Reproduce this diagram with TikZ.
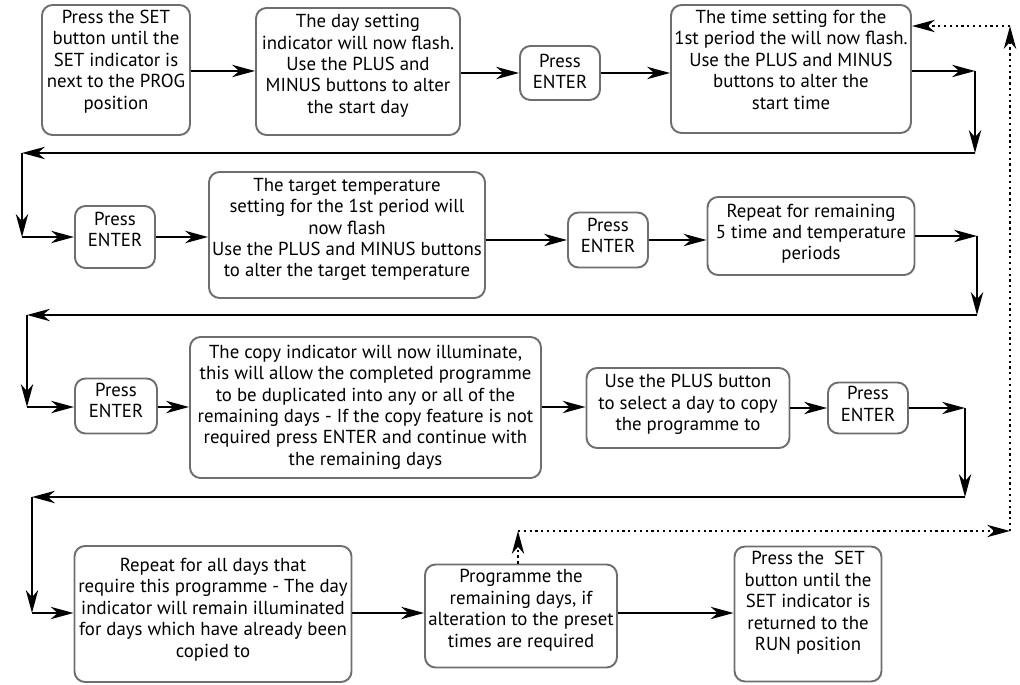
\documentclass[tikz,border=0pt]{standalone}
\usepackage{fontspec}
\setmainfont{PT Sans}
\usetikzlibrary{arrows.meta,calc}
\definecolor{boxgray}{HTML}{6E6E6E}
\newcommand{\tb}[2][0pt]{\raisebox{#1}[\height][\depth]{\begin{tabular}{@{}c@{}}#2\end{tabular}}}
\tikzset{
  bx/.style 2 args={draw=boxgray, line width=1.1pt, rounded corners=6pt, inner sep=0pt,
    minimum width=#1*0.02cm, minimum height=#2*0.02cm,
    font=\fontsize{10.7}{12.2}\selectfont},
  arrtip/.style={-{Stealth[length=13pt,width=7pt,inset=4pt]}},
  arr/.style={line width=1.4pt, arrtip},
  darr/.style={line width=1.3pt, dotted, arrtip},
}
\begin{document}
\begin{tikzpicture}[x=0.02cm,y=-0.02cm]
\useasboundingbox (0,0) rectangle (1020,685);
% row 1
\node[bx={148}{130}] (B1) at (116,70) {\tb[4.5pt]{Press the SET\\button until the\\SET indicator is\\next to the PROG\\position}};
\node[bx={204}{127}] (B2) at (358,71.5) {\tb[3pt]{The day setting\\indicator will now flash.\\Use the PLUS and\\MINUS buttons to alter\\the start day}};
\node[bx={80}{54}] (B3) at (560,73) {\tb[-0.5pt]{Press\\ENTER}};
\node[bx={240}{128}] (B4) at (791,69) {\tb[4pt]{The time setting for the\\1st period the will now flash.\\Use the PLUS and MINUS\\buttons to alter the\\start time}};
% row 2
\node[bx={80}{62}] (B5) at (115,237) {\tb[3pt]{Press\\ENTER}};
\node[bx={276}{126}] (B6) at (347,235) {\tb[3pt]{The target temperature\\setting for the 1st period will\\now flash\\Use the PLUS and MINUS buttons\\to alter the target temperature}};
\node[bx={80}{55}] (B7) at (608,240) {\tb[1.4pt]{Press\\ENTER}};
\node[bx={207}{78}] (B8) at (811,236) {\tb[1pt]{Repeat for remaining\\5 time and temperature\\periods}};
% row 3
\node[bx={82}{55}] (B9) at (116,406) {\tb[2pt]{Press\\ENTER}};
\node[bx={351}{141}] (B10) at (365.5,407.5) {\tb{The copy indicator will now illuminate,\\this will allow the completed programme\\to be duplicated into any or all of the\\remaining days - If the copy feature is not\\required press ENTER and continue with\\the remaining days}};
\node[bx={203}{80}] (B11) at (688,408) {\tb[1.7pt]{Use the PLUS button\\to select a day to copy\\the programme to}};
\node[bx={80}{51}] (B12) at (868,408) {\tb[1pt]{Press\\ENTER}};
% row 4
\node[bx={277}{136}] (B13) at (213,614) {\tb[2.3pt]{Repeat for all days that\\require this programme - The day\\indicator will remain illuminated\\for days which have already been\\copied to}};
\node[bx={192}{103}] (B14) at (521,616) {\tb[3pt]{Programme the\\remaining days, if\\alteration to the preset\\times are required}};
\node[bx={147}{135}] (B15) at (808,614) {\tb[6pt]{Press the\ \ SET\\button until the\\SET indicator is\\returned to the\\RUN position}};
% corner coordinates
\coordinate (c1) at (975,71);
\coordinate (c2) at (975,153);
\coordinate (c3) at (22,153);
\coordinate (c4) at (22,237);
\coordinate (c5) at (977,236);
\coordinate (c6) at (977,315);
\coordinate (c7) at (27,315);
\coordinate (c8) at (27,407);
\coordinate (c9) at (965,408);
\coordinate (c10) at (965,497);
\coordinate (c11) at (32,497);
\coordinate (c12) at (32,613);
\coordinate (d1) at (518,531);
\coordinate (d2) at (1010,531);
\coordinate (d3) at (1010,26);
% row 1 connectors
\draw[arr] (B1.east |- 0,71) -- (B2.west |- 0,71);
\draw[arr] (B2.east |- B3) -- (B3.west);
\draw[arr] (B3.east) -- (B3.east -| B4.west);
\draw[arr] (B4.east |- c1) -- (c1);
\draw[arr] (c1) -- (c2);
\draw[arr] (c2) -- (c3);
\draw[arr] (c3) -- (c4);
\draw[arr] (c4) -- (c4 -| B5.west);
% row 2
\draw[arr] (B5.east |- c4) -- (B6.west |- c4);
\draw[arr] (B6.east |- B7) -- (B7.west);
\draw[arr] (B7.east) -- (B7.east -| B8.west);
\draw[arr] (B8.east |- c5) -- (c5);
\draw[arr] (c5) -- (c6);
\draw[arr] (c6) -- (c7);
\draw[arr] (c7) -- (c8);
\draw[arr] (c8) -- (c8 -| B9.west);
% row 3
\draw[arr] (B9.east |- c8) -- (B10.west |- c8);
\draw[arr] (B10.east |- c8) -- (B11.west |- c8);
\draw[arr] (B11.east |- c9) -- (B12.west |- c9);
\draw[arr] (B12.east |- c9) -- (c9);
\draw[arr] (c9) -- (c10);
\draw[arr] (c10) -- (c11);
\draw[arr] (c11) -- (c12);
\draw[arr] (c12) -- (c12 -| B13.west);
% row 4
\draw[arr] (B13.east |- c12) -- (B14.west |- c12);
\draw[arr] (B14.east |- c12) -- (B15.west |- c12);
% dotted loop
\draw[darr] (B14.north -| d1) -- (d1);
\draw[darr] (d1) -- (d2);
\draw[darr] (d2) -- (d3);
\draw[darr] (d3) -- (d3 -| B4.east);
\end{tikzpicture}
\end{document}
